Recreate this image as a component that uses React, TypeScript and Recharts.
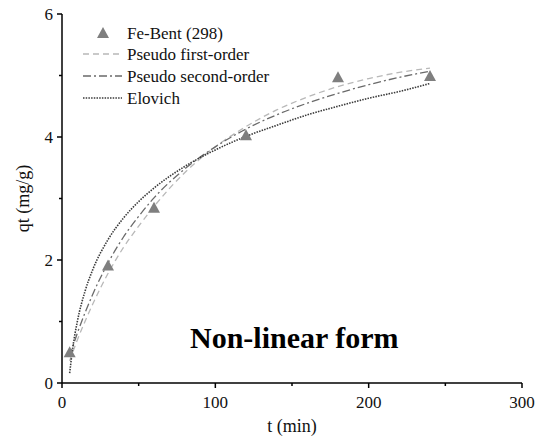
import React from 'react';
import { ComposedChart, Line, Scatter, XAxis, YAxis } from 'recharts';

// experimental points, Fe-Bent at 298 K
const expT = [5, 30, 60, 120, 180, 240];
const expQ = [0.5, 1.91, 2.85, 4.03, 4.97, 4.99];

// fitted curves, values
const fitT = [5, 7, 10, 15, 20, 30, 40, 50, 60, 80, 100, 120, 140, 160, 180, 200, 220, 240];
const pfoQ = [0.36, 0.5, 0.7, 1.0, 1.28, 1.78, 2.2, 2.55, 2.87, 3.42, 3.84, 4.17, 4.44, 4.65, 4.82, 4.95, 5.05, 5.12];
const psoQ = [0.43, 0.59, 0.81, 1.14, 1.44, 1.95, 2.37, 2.71, 3.01, 3.48, 3.84, 4.13, 4.36, 4.55, 4.71, 4.85, 4.97, 5.07];
const eloQ = [0.16, 0.57, 1.0, 1.49, 1.84, 2.33, 2.68, 2.95, 3.17, 3.52, 3.79, 4.01, 4.19, 4.36, 4.5, 4.63, 4.74, 4.87];

const xTicks = [0, 50, 100, 150, 200, 250, 300];
const yTicks = [0, 1, 2, 3, 4, 5, 6];

const FONT = '"Liberation Serif", "Times New Roman", serif';

const expData = expT.map((t, i) => ({ t, q: expQ[i] }));
const pfoData = fitT.map((t, i) => ({ t, q: pfoQ[i] }));
const psoData = fitT.map((t, i) => ({ t, q: psoQ[i] }));
const eloData = fitT.map((t, i) => ({ t, q: eloQ[i] }));

const PFO_STYLE = { stroke: '#b8b8b8', strokeDasharray: '6 4', strokeWidth: 1.3 };
const PSO_STYLE = { stroke: '#6a6a6a', strokeDasharray: '8 3 2 3', strokeWidth: 1.3 };
const ELO_STYLE = { stroke: '#3a3a3a', strokeDasharray: '1.5 1.2', strokeWidth: 1.6 };

const XTick = (props: any) => {
  const { x, y, payload } = props;
  const major = payload.value % 100 === 0;
  return (
    <g>
      <line x1={x} y1={y} x2={x} y2={y + (major ? 5 : 3)} stroke="#000" strokeWidth={1.5} />
      {major && (
        <text x={x} y={y + 25} textAnchor="middle" fontFamily={FONT} fontSize={17} fill="#111">
          {payload.value}
        </text>
      )}
    </g>
  );
};

const YTick = (props: any) => {
  const { x, y, payload } = props;
  const major = payload.value % 2 === 0;
  return (
    <g>
      <line x1={x} y1={y} x2={x - (major ? 5 : 3)} y2={y} stroke="#000" strokeWidth={1.5} />
      {major && (
        <text x={x - 9} y={y} textAnchor="end" dominantBaseline="central" fontFamily={FONT} fontSize={17} fill="#111">
          {payload.value}
        </text>
      )}
    </g>
  );
};

const YTitle = (props: any) => {
  const { viewBox } = props;
  const cx = viewBox.x + 23;
  const cy = viewBox.y + viewBox.height / 2;
  return (
    <text
      x={cx}
      y={cy}
      transform={`rotate(-90 ${cx} ${cy})`}
      textAnchor="middle"
      dominantBaseline="central"
      fontFamily={FONT}
      fontSize={18}
      fill="#111"
    >
      qt (mg/g)
    </text>
  );
};

const XTitle = (props: any) => {
  const { viewBox } = props;
  const cx = viewBox.x + viewBox.width / 2;
  return (
    <text x={cx} y={432} textAnchor="middle" fontFamily={FONT} fontSize={18} fill="#111">
      t (min)
    </text>
  );
};

const Triangle = (props: any) => {
  const { cx, cy } = props;
  return <polygon points={`${cx},${cy - 6} ${cx - 6},${cy + 5} ${cx + 6},${cy + 5}`} fill="#7f7f7f" />;
};

const legendRows = [
  { name: 'Fe-Bent (298)', y: 33 },
  { name: 'Pseudo first-order', y: 54, style: PFO_STYLE },
  { name: 'Pseudo second-order', y: 76, style: PSO_STYLE },
  { name: 'Elovich', y: 98, style: ELO_STYLE },
];

export default function App() {
  return (
    <div style={{ position: 'absolute', left: 0, top: 0, width: 542, height: 444, background: '#fff' }}>
      <ComposedChart width={542} height={444} margin={{ top: 14, right: 20, bottom: 0, left: 0 }}>
        <XAxis
          type="number"
          dataKey="t"
          domain={[0, 300]}
          ticks={xTicks}
          interval={0}
          height={61}
          tickSize={0}
          tickMargin={0}
          tickLine={false}
          tick={<XTick />}
          axisLine={{ stroke: '#000', strokeWidth: 1.5 }}
          label={<XTitle />}
          allowDataOverflow
        />
        <YAxis
          type="number"
          dataKey="q"
          domain={[0, 6]}
          ticks={yTicks}
          interval={0}
          width={62}
          tickSize={0}
          tickMargin={0}
          tickLine={false}
          tick={<YTick />}
          axisLine={{ stroke: '#000', strokeWidth: 1.5 }}
          label={<YTitle />}
          allowDataOverflow
        />
        <Line data={pfoData} dataKey="q" type="monotone" dot={false} activeDot={false} {...PFO_STYLE} isAnimationActive={false} />
        <Line data={psoData} dataKey="q" type="monotone" dot={false} activeDot={false} {...PSO_STYLE} isAnimationActive={false} />
        <Line data={eloData} dataKey="q" type="monotone" dot={false} activeDot={false} {...ELO_STYLE} isAnimationActive={false} />
        <Scatter data={expData} dataKey="q" shape={<Triangle />} isAnimationActive={false} />
      </ComposedChart>
      <svg width={542} height={444} style={{ position: 'absolute', left: 0, top: 0, pointerEvents: 'none' }}>
        {legendRows.map((row) => (
          <g key={row.name}>
            {row.style ? (
              <line x1={83} x2={122} y1={row.y} y2={row.y} {...row.style} />
            ) : (
              <Triangle cx={103} cy={row.y} />
            )}
            <text x={127} y={row.y} dominantBaseline="central" fontFamily={FONT} fontSize={17} fill="#111">
              {row.name}
            </text>
          </g>
        ))}
        <text x={190} y={348} fontFamily={FONT} fontSize={30} fontWeight="bold" fill="#000">
          Non-linear form
        </text>
      </svg>
    </div>
  );
}
